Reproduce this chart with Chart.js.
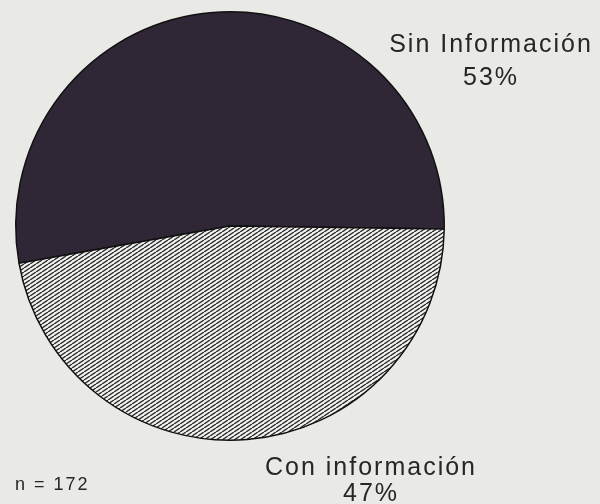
<!DOCTYPE html>
<html>
<head>
<meta charset="utf-8">
<script src="https://cdn.jsdelivr.net/npm/chart.js@4"></script>
<style>
  html, body { margin: 0; padding: 0; background: #e9eae5; }
  #wrap { width: 600px; height: 504px; position: relative; }
</style>
</head>
<body>
<div id="wrap"><canvas id="pie" width="600" height="504"></canvas></div>
<script>
// Chart data
const categories = ["Sin Información", "Con información"];
const shares = [53, 47];
const shareLabels = ["53%", "47%"];
const sampleNote = "n = 172";

// Hatch pattern for the second slice
function makeHatch() {
  const w = 6, h = 4;
  const c = document.createElement("canvas");
  c.width = w;
  c.height = h;
  const g = c.getContext("2d");
  g.fillStyle = "#f1f1ed";
  g.fillRect(0, 0, w, h);
  g.strokeStyle = "#2a2a2e";
  g.lineWidth = 1.4;
  g.beginPath();
  g.moveTo(0, h); g.lineTo(w, 0);
  g.moveTo(-w, h); g.lineTo(0, 0);
  g.moveTo(w, h); g.lineTo(2 * w, 0);
  g.stroke();
  return g.createPattern(c, "repeat");
}

// Labels drawn next to the pie
const labelPlugin = {
  id: "pieLabels",
  afterDraw(chart) {
    const ctx = chart.ctx;
    ctx.save();
    ctx.fillStyle = "#262626";
    ctx.textAlign = "center";
    ctx.textBaseline = "middle";
    ctx.letterSpacing = "2px";
    ctx.font = "25px 'Liberation Sans', Arial, sans-serif";
    ctx.fillText(categories[0], 491, 45);
    ctx.fillText(shareLabels[0], 491, 78);
    ctx.fillText(categories[1], 371, 468);
    ctx.fillText(shareLabels[1], 371, 494);
    ctx.textAlign = "left";
    ctx.font = "18px 'Liberation Sans', Arial, sans-serif";
    ctx.fillText(sampleNote, 15, 485);
    ctx.restore();
  },
};

const ctx = document.getElementById("pie").getContext("2d");
new Chart(ctx, {
  type: "pie",
  data: {
    labels: categories,
    datasets: [
      {
        data: shares,
        backgroundColor: ["#2f2636", makeHatch()],
        borderColor: "#111111",
        borderWidth: 1.5,
      },
    ],
  },
  options: {
    responsive: false,
    animation: false,
    rotation: 260,
    layout: { padding: { top: 11, bottom: 63, left: 15, right: 155 } },
    plugins: {
      legend: { display: false },
      tooltip: { enabled: false },
    },
  },
  plugins: [labelPlugin],
});
</script>
</body>
</html>
